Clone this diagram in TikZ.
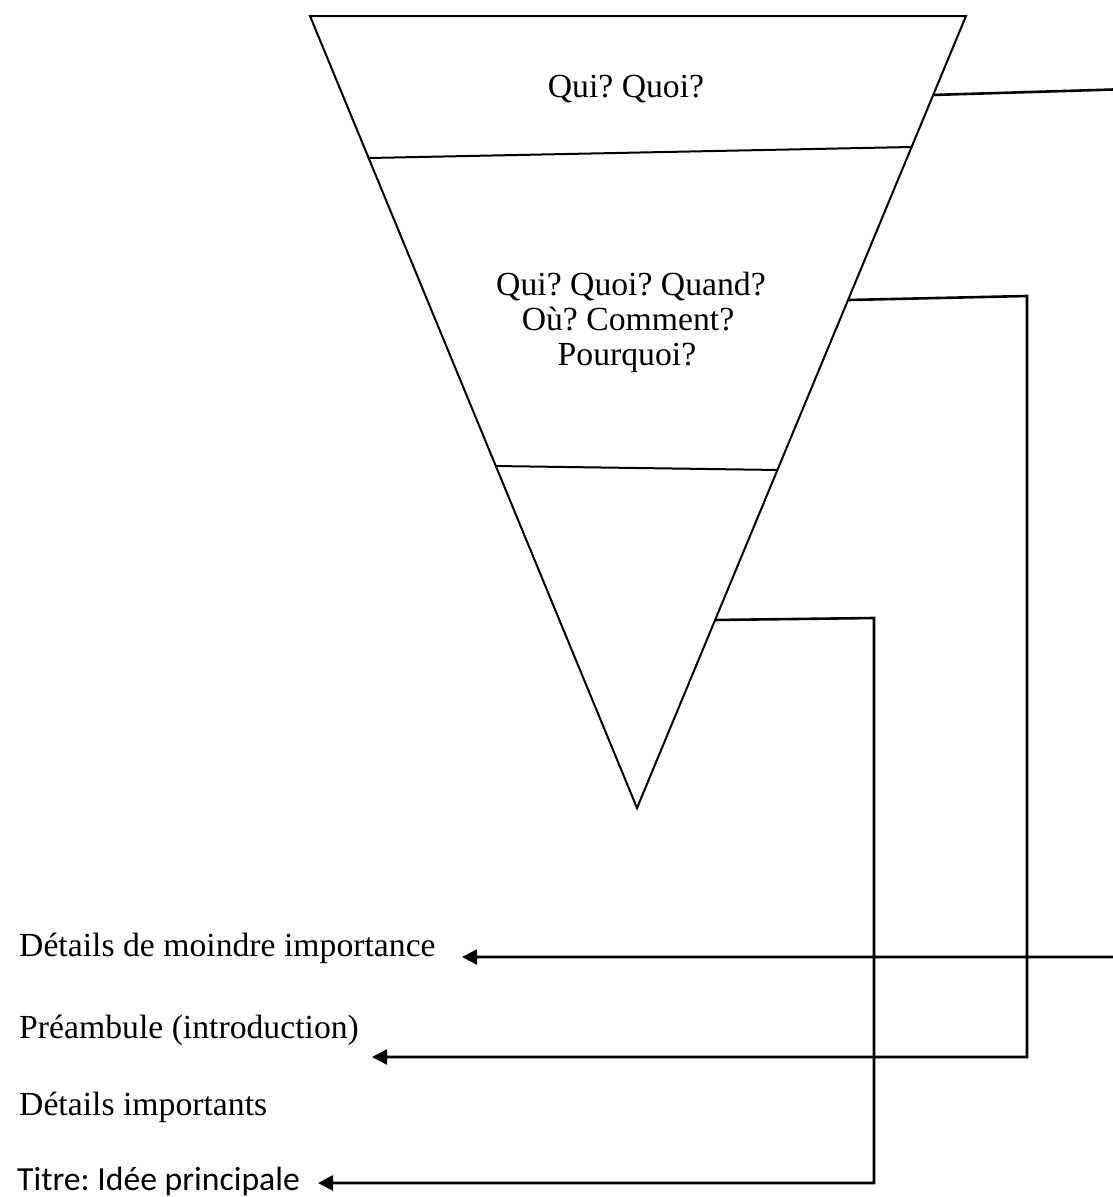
\documentclass[tikz,border=0pt]{standalone}
\usepackage{fontspec}
\setmainfont{Liberation Serif}
\newfontfamily\calib{Carlito}
\usetikzlibrary{arrows.meta,calc}
\tikzset{
  edge/.style={line width=2pt, line join=miter},
  conn/.style={line width=2.6pt},
  arr/.style={conn, -{Triangle[length=15pt,width=15pt]}},
  lbl/.style={anchor=base west, inner sep=0pt, font=\fontsize{33.7}{35}\selectfont},
  inlbl/.style={anchor=base, inner sep=0pt, font=\fontsize{33.7}{35}\selectfont},
}
\begin{document}
\frenchspacing
\begin{tikzpicture}[x=1pt,y=-1pt]
\useasboundingbox (0,0) rectangle (1113,1197);
\clip (0,0) rectangle (1113,1197);
% triangle vertices
\coordinate (TL) at (310,16);
\coordinate (TR) at (966,16);
\coordinate (B) at (637,808);
\draw[edge] (TL) -- (TR) -- (B) -- cycle;
% dividers
\coordinate (d1l) at ($(TL)!0.1793!(B)$);
\coordinate (d1r) at ($(TR)!0.1654!(B)$);
\coordinate (d2l) at ($(TL)!0.5682!(B)$);
\coordinate (d2r) at ($(TR)!0.5732!(B)$);
\draw[edge] (d1l) -- (d1r);
\draw[edge] (d2l) -- (d2r);
% texts inside
\node[inlbl] (t1) at (626,97) {Qui? Quoi?};
\node[inlbl] (t2a) at (631,295) {Qui? Quoi? Quand?};
\node[inlbl] (t2b) at (628,330) {Où? Comment?};
\node[inlbl] (t2c) at (627,365) {Pourquoi?};
% labels
\node[lbl] (l1) at (19,956) {Détails de moindre importance};
\node[lbl] (l2) at (19,1038) {Préambule (introduction)};
\node[lbl] (l3) at (19,1115) {Détails importants};
\node[lbl, font=\calib\fontsize{33.7}{35}\selectfont] (l4) at (17,1190) {Titre: Idée principale};
% connector start points on the right edge
\coordinate (s1) at ($(TR)!0.0997!(B)$);
\coordinate (s2) at ($(TR)!0.3586!(B)$);
\coordinate (s3) at ($(TR)!0.7626!(B)$);
\coordinate (c1a) at (1130,89);
\coordinate (c1b) at (1130,957);
\coordinate (e1) at (462,957);
\coordinate (c2a) at (1027,296);
\coordinate (c2b) at (1027,1057);
\coordinate (e2) at (372,1057);
\coordinate (c3a) at (874,618);
\coordinate (c3b) at (874,1183);
\coordinate (e3) at (318,1183);
\draw[arr] (s1) -- (c1a) -- (c1b) -- (e1);
\draw[arr] (s2) -- (c2a) -- (c2b) -- (e2);
\draw[arr] (s3) -- (c3a) -- (c3b) -- (e3);
\end{tikzpicture}
\end{document}
